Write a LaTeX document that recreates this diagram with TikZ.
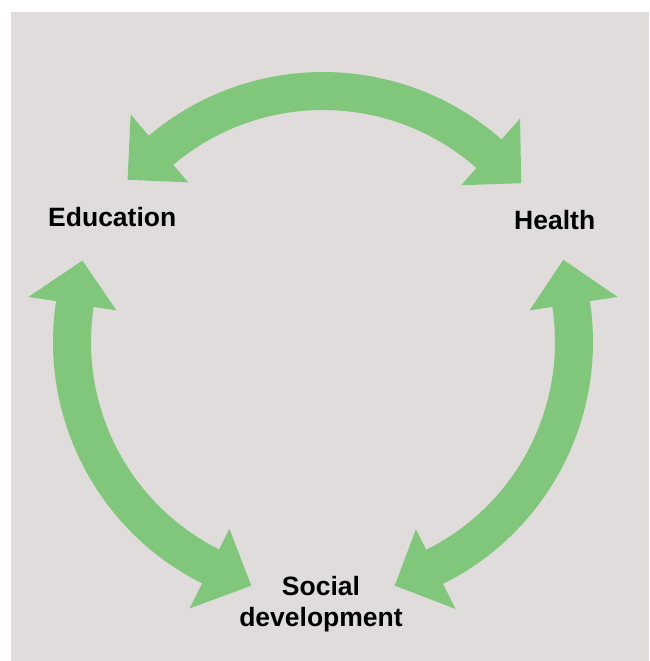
\documentclass[tikz,border=0pt]{standalone}
\usepackage{fontspec}
\setmainfont{Liberation Sans}
\usepackage{tikz}
\usetikzlibrary{calc,math}
\definecolor{arrowgreen}{RGB}{128,199,123}
\definecolor{panelgray}{RGB}{223,220,219}

\begin{document}
\begin{tikzpicture}
[x=1pt,y=1pt,label/.style={inner sep=0pt,font=\fontsize{26.5}{31}\selectfont\bfseries},
arrowfill/.style={fill=arrowgreen},]

%Radii: inner, outer, head inner, head outer, tip
\tikzmath{\ri = 232; \ro = 270; \hi = 209; \ho = 298; \rt = 254; }
%
%Frame and panel
\useasboundingbox (0,0) rectangle (649,661);
\fill[panelgray] (11,0) rectangle (649,649);
\coordinate (O) at (323,319);

%Double arrows: tip, base, base, tip angles
\foreach \ta/\ba/\bb/\tb in {140.3/130.2/48.6/38.7, 161.3/171.3/243.4/253.6, 18.9/8.7/-63.6/-73.6}
{
\fill[arrowfill,shift={(O)}] (\ta:\rt) -- (\ba:\ho) -- (\ba:\ro)
  arc[start angle=\ba,end angle=\bb,radius=\ro] -- (\bb:\ho) -- (\tb:\rt)
  -- (\bb:\hi) -- (\bb:\ri) arc[start angle=\bb,end angle=\ba,radius=\ri]
  -- (\ba:\hi) -- cycle;
}

%Labels
\node (edu) at (48,434)[label,anchor=base west] {Education};
\node (health) at (514,431)[label,anchor=base west] {Health};
\node (social) at (321,34)[label,anchor=base,align=center] {Social\\development};

\end{tikzpicture}
\end{document}
